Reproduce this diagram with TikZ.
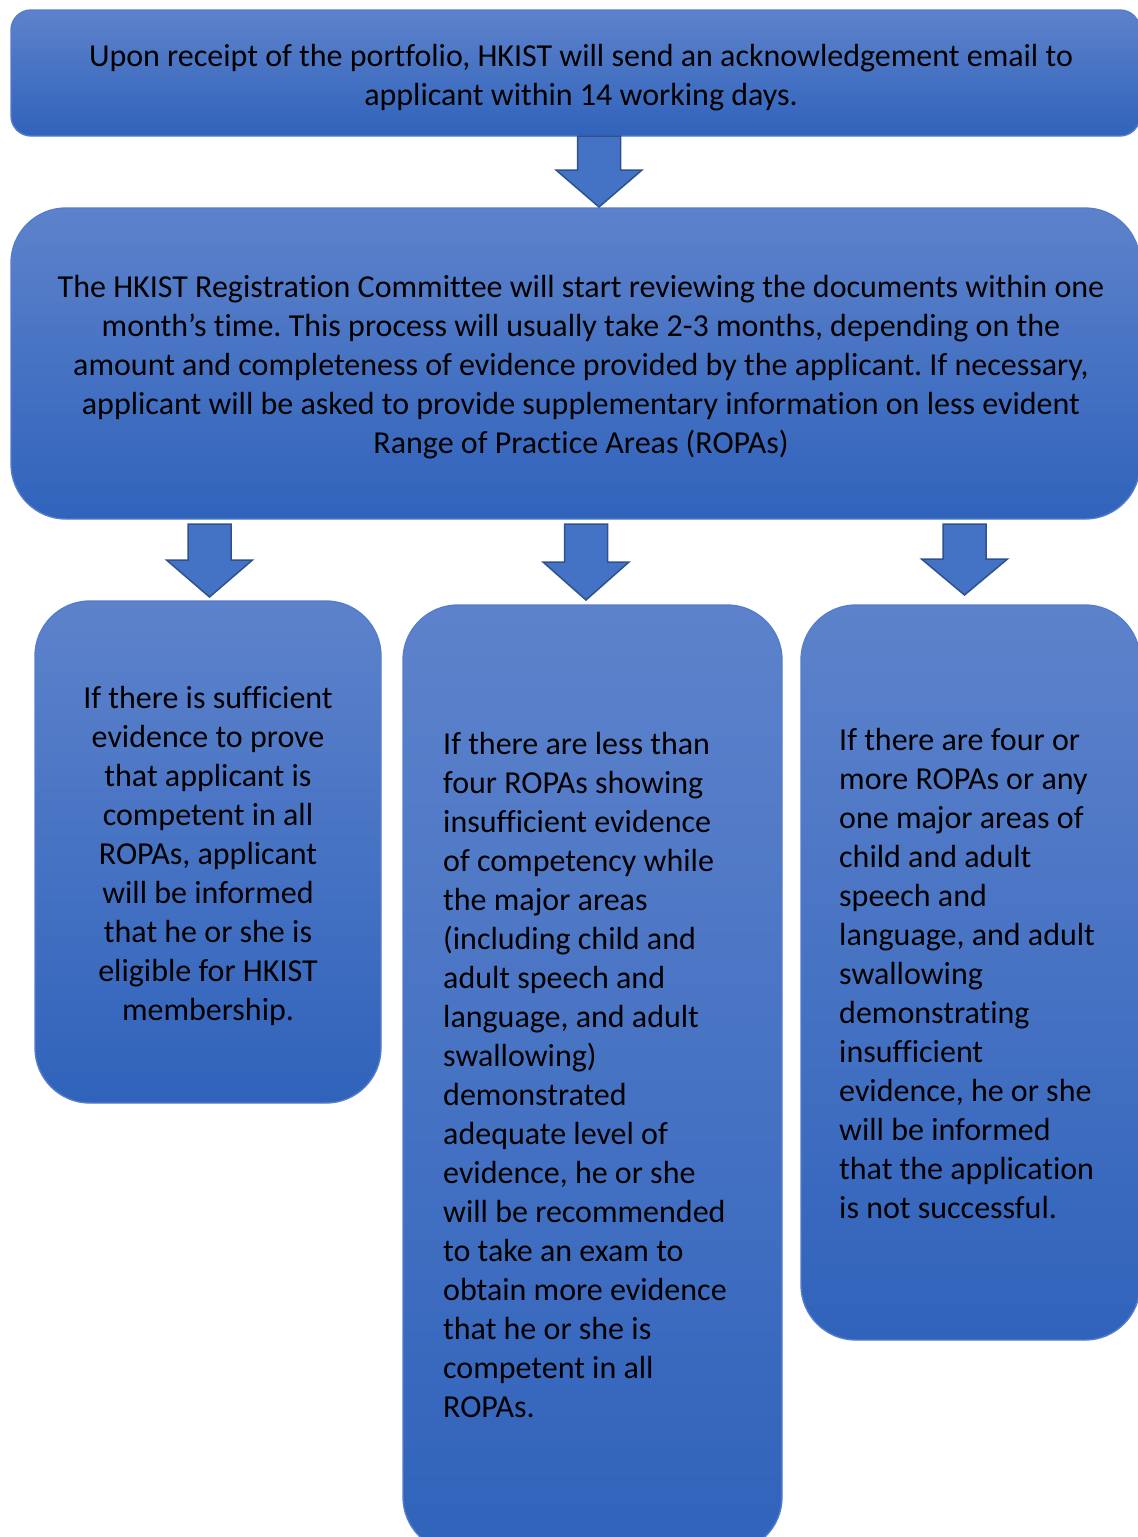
\documentclass[tikz,border=0pt]{standalone}
\usepackage{fontspec}
\setmainfont{Carlito}[Ligatures=CommonOff]
\usetikzlibrary{calc}
\definecolor{boxtop}{RGB}{93,130,203}
\definecolor{boxmid}{RGB}{63,113,200}
\definecolor{boxbot}{RGB}{48,99,187}
\definecolor{boxline}{RGB}{84,125,205}
\definecolor{arrfill}{RGB}{68,114,196}
\definecolor{arrline}{RGB}{47,82,143}
\tikzset{
  flowbox/.style={draw=boxline, line width=1.4pt, top color=boxtop, middle color=boxmid, bottom color=boxbot, inner sep=0pt},
  boxtxt/.style={inner sep=0pt, text=black, font=\fontsize{32}{39}\selectfont\frenchspacing},
  blockarr/.style={fill=arrfill, draw=arrline, line width=1.5pt, line join=miter},
}
\newcommand\blockarrow[4]{% x, ytop, yhead, ytip
  \draw[blockarr] (#1-21.5,#2) -- (#1+21.5,#2) -- (#1+21.5,#3) -- (#1+43,#3) -- (#1,#4) -- (#1-43,#3) -- (#1-21.5,#3) -- cycle;}
\begin{document}
\begin{tikzpicture}[x=1pt,y=-1pt]
\useasboundingbox (0,0) rectangle (1138,1537);
\clip (0,0) rectangle (1138,1537);
% boxes
\node[flowbox, rounded corners=20pt, minimum width=1129pt, minimum height=126pt] (b1) at (575.5,73) {};
\node[flowbox, rounded corners=55pt, minimum width=1129pt, minimum height=311pt] (b2) at (575.5,363.5) {};
\node[flowbox, rounded corners=55pt, minimum width=346pt, minimum height=502pt] (b3) at (208,852) {};
\node[flowbox, rounded corners=55pt, minimum width=379pt, minimum height=947pt] (b4) at (592.5,1078.5) {};
\node[flowbox, rounded corners=55pt, minimum width=339pt, minimum height=735pt] (b5) at (970.5,972.5) {};
% arrows
\blockarrow{599}{136}{170}{207}
\blockarrow{209.5}{524}{560}{597}
\blockarrow{586}{524}{562}{600}
\blockarrow{964.5}{524}{559}{595}
% texts
\node[boxtxt, align=center] (t1) at (581,77.5) {Upon receipt of the portfolio, HKIST will send an acknowledgement email to\\applicant within 14 working days.};
\node[boxtxt, align=center] (t2) at (581,367) {The HKIST Registration Committee will start reviewing the documents within one\\month’s time. This process will usually take 2-3 months, depending on the\\amount and completeness of evidence provided by the applicant. If necessary,\\applicant will be asked to provide supplementary information on less evident\\Range of Practice Areas (ROPAs)};
\node[boxtxt, align=center] (t3) at (208,856) {If there is sufficient\\evidence to prove\\that applicant is\\competent in all\\ROPAs, applicant\\will be informed\\that he or she is\\eligible for HKIST\\membership.};
\node[boxtxt, align=left, anchor=west] (t4) at (443,1075) {If there are less than\\four ROPAs showing\\insufficient evidence\\of competency while\\the major areas\\(including child and\\adult speech and\\language, and adult\\swallowing)\\demonstrated\\adequate level of\\evidence, he or she\\will be recommended\\to take an exam to\\obtain more evidence\\that he or she is\\competent in all\\ROPAs.};
\node[boxtxt, align=left, anchor=west] (t5) at (839,973.5) {If there are four or\\more ROPAs or any\\one major areas of\\child and adult\\speech and\\language, and adult\\swallowing\\demonstrating\\insufficient\\evidence, he or she\\will be informed\\that the application\\is not successful.};
\end{tikzpicture}
\end{document}
